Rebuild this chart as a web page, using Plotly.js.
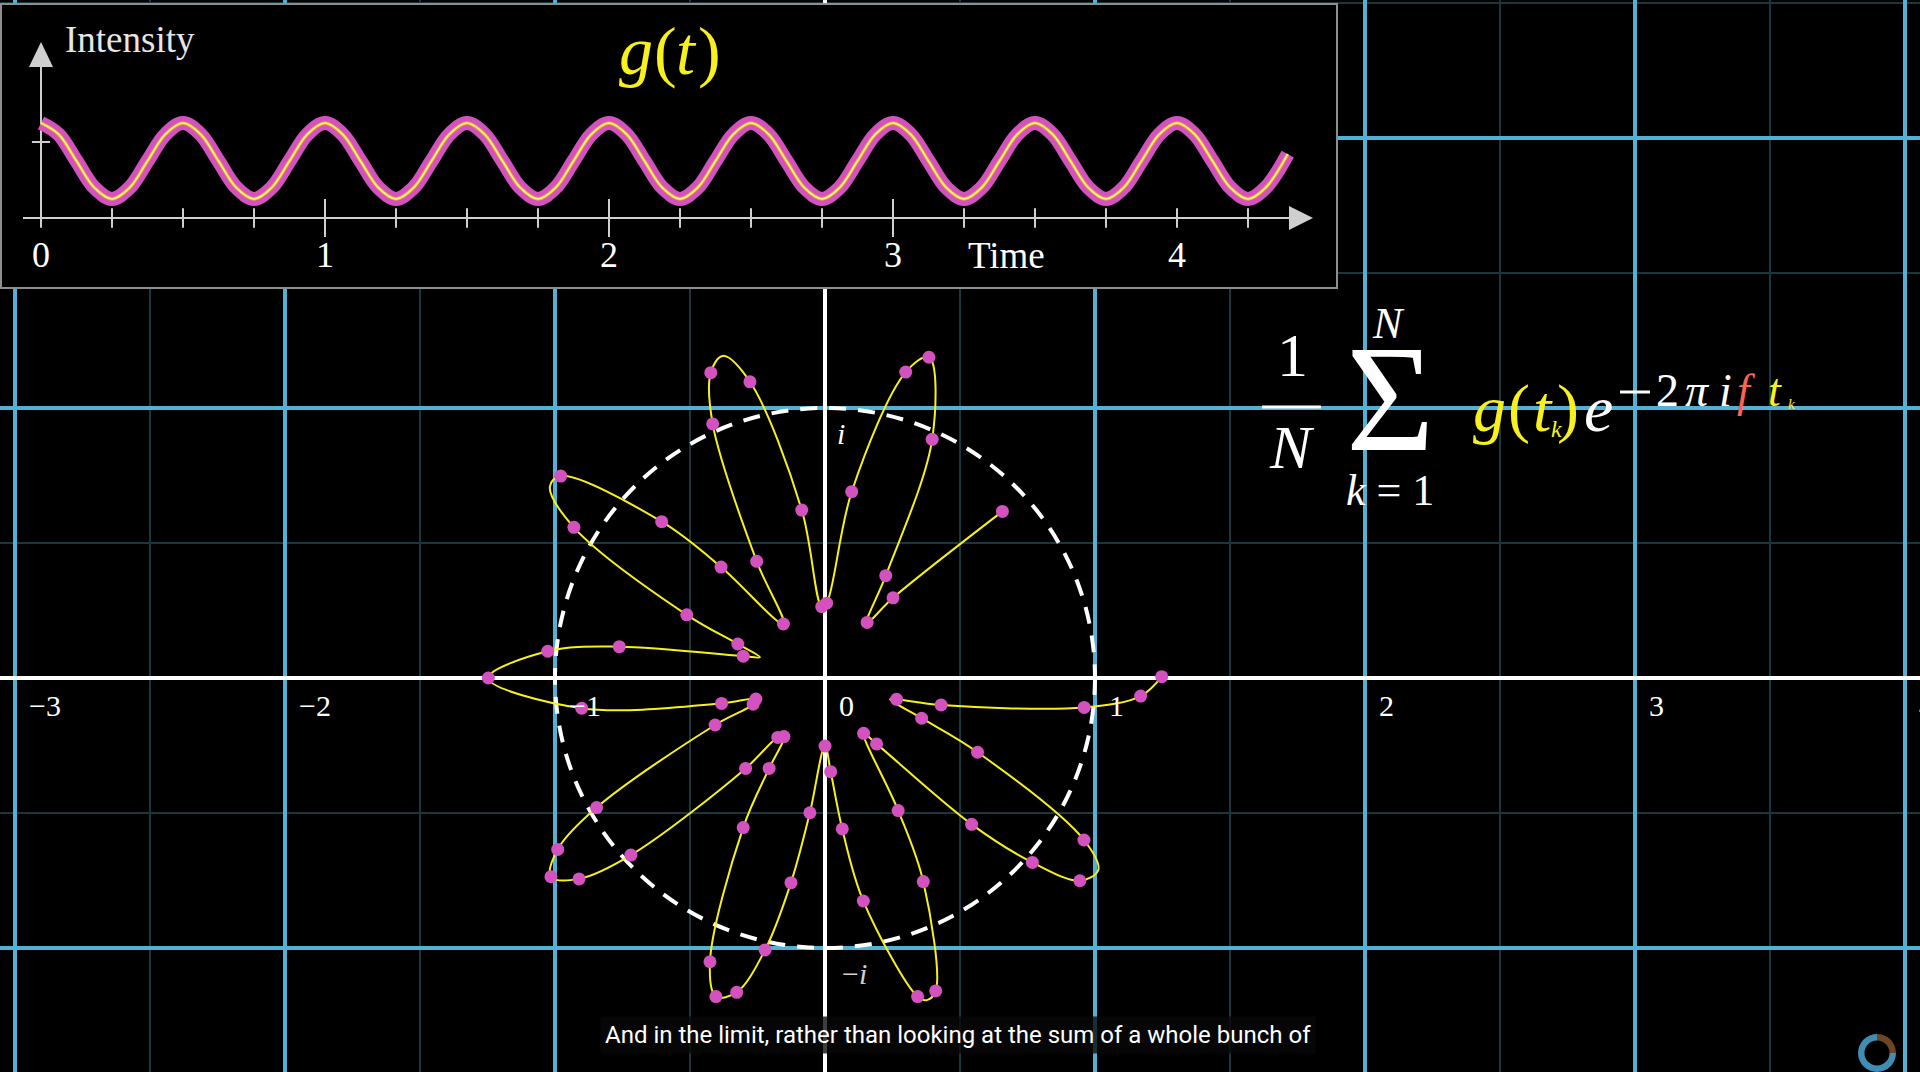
<!DOCTYPE html>
<html><head><meta charset="utf-8">
<script src="https://cdn.plot.ly/plotly-3.0.1.min.js"></script>
<style>html,body{margin:0;padding:0;background:#000;overflow:hidden}#chart{width:1920px;height:1072px}</style>
</head><body><div id="chart"></div>
<script>
// ================= DATA =================
// complex plane tick labels
const planeTickValues = [-3, -2, -1, 0, 1, 2, 3, 4];
const planeTickLabels = ['−3', '−2', '−1', '0', '1', '2', '3', '4'];

// winding curve g(t)e^{-2πift}, in time order (real, imaginary parts)
const windX = [1.247,1.169,0.960,0.430,0.265,0.241,0.358,0.565,0.959,1.012,0.944,0.768,0.543,0.191,0.143,0.271,0.364,0.410,0.377,0.343,0.142,0.064,0.021,0.000,-0.056,-0.126,-0.222,-0.327,-0.404,-0.426,-0.303,-0.207,-0.152,-0.175,-0.294,-0.719,-0.911,-1.015,-0.990,-0.846,-0.407,-0.266,-0.256,-0.383,-0.901,-1.247,-1.027,-0.762,-0.303,-0.241,-0.323,-0.512,-0.930,-1.019,-0.979,-0.605,-0.385,-0.154,-0.253,-0.416,-0.423,-0.379,-0.278,-0.086,-0.012,0.006,0.099,0.299,0.385,0.397,0.225,0.156,0.252,0.657];
const windY = [0.005,-0.067,-0.109,-0.100,-0.079,-0.079,-0.149,-0.275,-0.600,-0.711,-0.751,-0.683,-0.542,-0.244,-0.205,-0.491,-0.754,-1.159,-1.193,-1.180,-0.826,-0.559,-0.347,-0.252,-0.499,-0.758,-1.007,-1.164,-1.180,-1.051,-0.554,-0.335,-0.217,-0.220,-0.335,-0.656,-0.744,-0.736,-0.635,-0.480,-0.174,-0.097,-0.078,-0.094,-0.112,0.000,0.099,0.116,0.081,0.077,0.126,0.234,0.558,0.709,0.748,0.579,0.411,0.200,0.432,0.941,1.131,1.193,1.097,0.622,0.264,0.277,0.690,1.133,1.188,0.884,0.379,0.206,0.297,0.617];
// 1 = a sample point t_k (pink dot), 0 = only a point on the yellow curve
const windIsSample = [1,1,1,1,1,0,1,1,1,0, 1,1,1,1,1,1,1,1,0,1, 1,1,1,1,1,1,1,1,1,1, 1,1,1,1,1,1,1,1,1,1, 1,1,1,1,1,1,1,1,1,0, 1,1,1,0,1,1,1,1,1,1, 1,0,1,1,1,1,1,1,1,1, 1,1,1,1];

// inset graph g(t)
const gTime = [0,0.0625,0.125,0.1875,0.25,0.3125,0.375,0.4375,0.5,0.5625,0.625,0.6875,0.75,0.8125,0.875,0.9375,1,1.0625,1.125,1.1875,1.25,1.3125,1.375,1.4375,1.5,1.5625,1.625,1.6875,1.75,1.8125,1.875,1.9375,2,2.0625,2.125,2.1875,2.25,2.3125,2.375,2.4375,2.5,2.5625,2.625,2.6875,2.75,2.8125,2.875,2.9375,3,3.0625,3.125,3.1875,3.25,3.3125,3.375,3.4375,3.5,3.5625,3.625,3.6875,3.75,3.8125,3.875,3.9375,4,4.0625,4.125,4.1875,4.25,4.3125,4.39];
const gValue = [1.25,1.10,0.75,0.40,0.25,0.40,0.75,1.10, 1.25,1.10,0.75,0.40,0.25,0.40,0.75,1.10, 1.25,1.10,0.75,0.40,0.25,0.40,0.75,1.10, 1.25,1.10,0.75,0.40,0.25,0.40,0.75,1.10, 1.25,1.10,0.75,0.40,0.25,0.40,0.75,1.10, 1.25,1.10,0.75,0.40,0.25,0.40,0.75,1.10, 1.25,1.10,0.75,0.40,0.25,0.40,0.75,1.10, 1.25,1.10,0.75,0.40,0.25,0.40,0.75,1.10, 1.25,1.10,0.75,0.40,0.25,0.40,0.84];
const timeTickValues = [0,0.25,0.5,0.75,1,1.25,1.5,1.75,2,2.25,2.5,2.75,3,3.25,3.5,3.75,4,4.25];
const timeLongTickValues = [1,2,3];
const timeLabelValues = [0,1,2,3,4];
const timeLabels = ['0','1','2','3','4'];
const intensityTickValues = [1];

const subtitleText = 'And in the limit, rather than looking at the sum of a whole bunch of';

// ================= LAYOUT / STYLE =================
const W = 1920, H = 1072;
const SERIF = 'Liberation Serif, DejaVu Serif, serif';
const BLUE = '#52B1D4', MINOR = '#19373E', PINK = '#D452C0', YELLOW = '#F7F01E', RED = '#FC6255', GREY = '#cfcfcf';

// main plane pixel geometry
const O = {x: 825, y: 678}, UNIT = 270;
const xRange = [(0 - O.x) / UNIT, (W - O.x) / UNIT];
const yRange = [(O.y - H) / UNIT, O.y / UNIT];

// inset geometry (pixels)
const BOX = {x0: 0, x1: 1337, y0: 4, y1: 288};
const T0 = 41, TPX = 284, G0 = 218, GPX = 76;
const x2Range = [(BOX.x0 - T0) / TPX, (BOX.x1 - T0) / TPX];
const y2Range = [(G0 - BOX.y1) / GPX, (G0 - BOX.y0) / GPX];
const tAt = px => (px - T0) / TPX;
const gAt = py => (G0 - py) / GPX;

const PX = x => x / W, PY = y => 1 - y / H;

const traces = [];
// winding curve and samples
traces.push({type: 'scatter', mode: 'lines', x: windX, y: windY, xaxis: 'x', yaxis: 'y',
  line: {color: YELLOW, width: 2, shape: 'spline', smoothing: 1}, hoverinfo: 'skip'});
traces.push({type: 'scatter', mode: 'markers',
  x: windX.filter((_, i) => windIsSample[i]), y: windY.filter((_, i) => windIsSample[i]),
  xaxis: 'x', yaxis: 'y', marker: {color: PINK, size: 13, line: {width: 0}}, hoverinfo: 'skip'});

// inset axes
traces.push({type: 'scatter', mode: 'lines', x: [tAt(23), tAt(1292)], y: [0, 0], xaxis: 'x2', yaxis: 'y2',
  line: {color: GREY, width: 2}, hoverinfo: 'skip'});
traces.push({type: 'scatter', mode: 'lines', x: [0, 0], y: [gAt(227), gAt(66)], xaxis: 'x2', yaxis: 'y2',
  line: {color: GREY, width: 2}, hoverinfo: 'skip'});
const shortTicks = timeTickValues.filter(v => timeLongTickValues.indexOf(v) < 0);
traces.push({type: 'scatter', mode: 'markers', x: shortTicks, y: shortTicks.map(() => 0), xaxis: 'x2', yaxis: 'y2',
  marker: {symbol: 'line-ns-open', size: 14, color: GREY, line: {color: GREY, width: 2}}, hoverinfo: 'skip'});
traces.push({type: 'scatter', mode: 'markers', x: timeLongTickValues, y: timeLongTickValues.map(() => 0), xaxis: 'x2', yaxis: 'y2',
  marker: {symbol: 'line-ns-open', size: 27, color: GREY, line: {color: GREY, width: 2}}, hoverinfo: 'skip'});
traces.push({type: 'scatter', mode: 'markers', x: intensityTickValues.map(() => 0), y: intensityTickValues, xaxis: 'x2', yaxis: 'y2',
  marker: {symbol: 'line-ew-open', size: 13, color: GREY, line: {color: GREY, width: 2}}, hoverinfo: 'skip'});
// g(t)
traces.push({type: 'scatter', mode: 'lines', x: gTime, y: gValue, xaxis: 'x2', yaxis: 'y2',
  line: {color: PINK, width: 14, shape: 'spline', smoothing: 1}, hoverinfo: 'skip'});
traces.push({type: 'scatter', mode: 'lines', x: gTime, y: gValue, xaxis: 'x2', yaxis: 'y2',
  line: {color: '#EFA24A', width: 3.5, shape: 'spline', smoothing: 1}, hoverinfo: 'skip'});
traces.push({type: 'scatter', mode: 'lines', x: gTime, y: gValue, xaxis: 'x2', yaxis: 'y2',
  line: {color: '#FFFF6A', width: 1.5, shape: 'spline', smoothing: 1}, hoverinfo: 'skip'});

// loading ring (bottom right)
traces.push({type: 'pie', values: [1, 3], sort: false, direction: 'counterclockwise', rotation: 0,
  marker: {colors: ['#6e4624', '#3f8db3'], line: {width: 0}}, hole: 0.66, textinfo: 'none', hoverinfo: 'skip',
  showlegend: false, domain: {x: [PX(1858), PX(1896)], y: [PY(1072), PY(1034)]}});

// ---------- annotations ----------
const ann = [];
planeTickValues.forEach((v, i) => ann.push({xref: 'x', yref: 'y', x: v + 12 / UNIT, y: (O.y - 705) / UNIT,
  text: planeTickLabels[i], showarrow: false, xanchor: 'left', yanchor: 'middle',
  font: {family: SERIF, size: 30, color: '#ffffff'}}));
ann.push({xref: 'x', yref: 'y', x: 0.061, y: 0.904, text: '<i>i</i>', showarrow: false,
  font: {family: SERIF, size: 30, color: '#ffffff'}});
ann.push({xref: 'x', yref: 'y', x: 0.111, y: -1.096, text: '−<i>i</i>', showarrow: false,
  font: {family: SERIF, size: 30, color: '#d0d0d0'}});

timeLabelValues.forEach((v, i) => ann.push({xref: 'x2', yref: 'y2', x: v, y: gAt(255),
  text: timeLabels[i], showarrow: false, font: {family: SERIF, size: 36, color: '#ffffff'}}));
ann.push({xref: 'x2', yref: 'y2', x: tAt(1006), y: gAt(256), text: 'Time', showarrow: false,
  font: {family: SERIF, size: 37, color: '#ffffff'}});
ann.push({xref: 'x2', yref: 'y2', x: tAt(63), y: gAt(40), text: 'Intensity', showarrow: false, xanchor: 'left',
  font: {family: SERIF, size: 37, color: '#e6e6e6'}});

function glyph(text, cx, cy, size, color) {
  ann.push({xref: 'paper', yref: 'paper', x: PX(cx), y: PY(cy), xanchor: 'center', yanchor: 'middle',
    text: text, showarrow: false, borderpad: 0, font: {family: SERIF, size: size, color: color}});
}
// g(t) title of inset
glyph('<i>g</i>', 636, 51, 68, YELLOW);
glyph('(', 665, 51, 68, YELLOW);
glyph('<i>t</i>', 686, 51, 68, YELLOW);
glyph(')', 709, 51, 68, YELLOW);

// formula 1/N Σ g(t_k) e^{-2πi f t_k}
glyph('1', 1292, 355, 62, '#ffffff');
glyph('<i>N</i>', 1292, 447, 62, '#ffffff');
glyph('Σ', 1390, 399, 152, '#ffffff');
glyph('<i>N</i>', 1388, 323, 44, '#ffffff');
glyph('<i>k</i> = 1', 1390, 491, 44, '#ffffff');
glyph('<i>g</i>', 1489, 408, 66, YELLOW);
glyph('(', 1519, 408, 66, YELLOW);
glyph('<i>t</i>', 1543, 408, 66, YELLOW);
glyph('<i>k</i>', 1556, 429, 24, YELLOW);
glyph(')', 1568, 408, 66, YELLOW);
glyph('<i>e</i>', 1598, 408, 66, '#ffffff');
glyph('2', 1667, 390, 46, '#ffffff');
glyph('<i>π</i>', 1697, 390, 46, '#ffffff');
glyph('<i>i</i>', 1725, 390, 46, '#ffffff');
glyph('<i>f</i>', 1746, 390, 46, RED);
glyph('<i>t</i>', 1775, 390, 46, YELLOW);
glyph('<i>k</i>', 1791, 404, 15, YELLOW);

// subtitle
ann.push({xref: 'paper', yref: 'paper', x: PX(958), y: PY(1035), xanchor: 'center', yanchor: 'middle',
  text: subtitleText, showarrow: false,
  bgcolor: 'rgba(8,8,8,0.78)', borderpad: 4, font: {family: 'Roboto, sans-serif', size: 24, color: '#ffffff'}});

// ---------- shapes ----------
const shapes = [
  // unit circle
  {type: 'circle', xref: 'x', yref: 'y', x0: -1, x1: 1, y0: -1, y1: 1, layer: 'between',
   line: {color: '#ffffff', width: 4, dash: '17px,12px'}},
  // inset background (semi-transparent)
  {type: 'rect', xref: 'x2', yref: 'y2', x0: x2Range[0], x1: x2Range[1], y0: y2Range[0], y1: y2Range[1],
   layer: 'below', fillcolor: 'rgba(0,0,0,0.83)', line: {width: 0}},
  // inset arrowheads
  {type: 'path', xref: 'x2', yref: 'y2', layer: 'above', fillcolor: GREY, line: {width: 0},
   path: `M${tAt(1313)},${gAt(218)} L${tAt(1289)},${gAt(206)} L${tAt(1289)},${gAt(230)} Z`},
  {type: 'path', xref: 'x2', yref: 'y2', layer: 'above', fillcolor: GREY, line: {width: 0},
   path: `M${tAt(41)},${gAt(42)} L${tAt(29)},${gAt(67)} L${tAt(53)},${gAt(67)} Z`},
  // inset border
  {type: 'rect', xref: 'paper', yref: 'paper', x0: PX(BOX.x0 + 1), x1: PX(BOX.x1), y0: PY(BOX.y1), y1: PY(BOX.y0),
   layer: 'above', fillcolor: 'rgba(0,0,0,0)', line: {color: '#8e8e8e', width: 2}},
  // fraction bar
  {type: 'line', xref: 'paper', yref: 'paper', x0: PX(1262), x1: PX(1321), y0: PY(407), y1: PY(407),
   layer: 'above', line: {color: '#ffffff', width: 3}},
  // minus sign of the exponent
  {type: 'line', xref: 'paper', yref: 'paper', x0: PX(1620), x1: PX(1650), y0: PY(392), y1: PY(392),
   layer: 'above', line: {color: '#ffffff', width: 3}}
];

const axBase = {fixedrange: true, showticklabels: false, ticks: '', showline: false};
const layout = {
  width: W, height: H, margin: {l: 0, r: 0, t: 0, b: 0, pad: 0},
  paper_bgcolor: '#000000', plot_bgcolor: '#000000', showlegend: false, hovermode: false,
  font: {family: SERIF, color: '#ffffff'},
  xaxis: Object.assign({}, axBase, {domain: [0, 1], range: xRange, tick0: 0, dtick: 1, showgrid: true,
    gridcolor: BLUE, gridwidth: 3.6, zeroline: true, zerolinecolor: '#ffffff', zerolinewidth: 4,
    minor: {tick0: 0, dtick: 0.5, showgrid: true, gridcolor: MINOR, gridwidth: 2}, anchor: 'y'}),
  yaxis: Object.assign({}, axBase, {domain: [0, 1], range: yRange, tick0: 0, dtick: 1, showgrid: true,
    gridcolor: BLUE, gridwidth: 3.6, zeroline: true, zerolinecolor: '#ffffff', zerolinewidth: 4,
    minor: {tick0: 0, dtick: 0.5, showgrid: true, gridcolor: MINOR, gridwidth: 2}, anchor: 'x'}),
  xaxis2: Object.assign({}, axBase, {domain: [PX(BOX.x0), PX(BOX.x1)], range: x2Range, showgrid: false, zeroline: false, anchor: 'y2'}),
  yaxis2: Object.assign({}, axBase, {domain: [PY(BOX.y1), PY(BOX.y0)], range: y2Range, showgrid: false, zeroline: false, anchor: 'x2'}),
  annotations: ann,
  shapes: shapes
};

Plotly.newPlot('chart', traces, layout, {staticPlot: true, displayModeBar: false, responsive: false});
</script>
</body></html>
